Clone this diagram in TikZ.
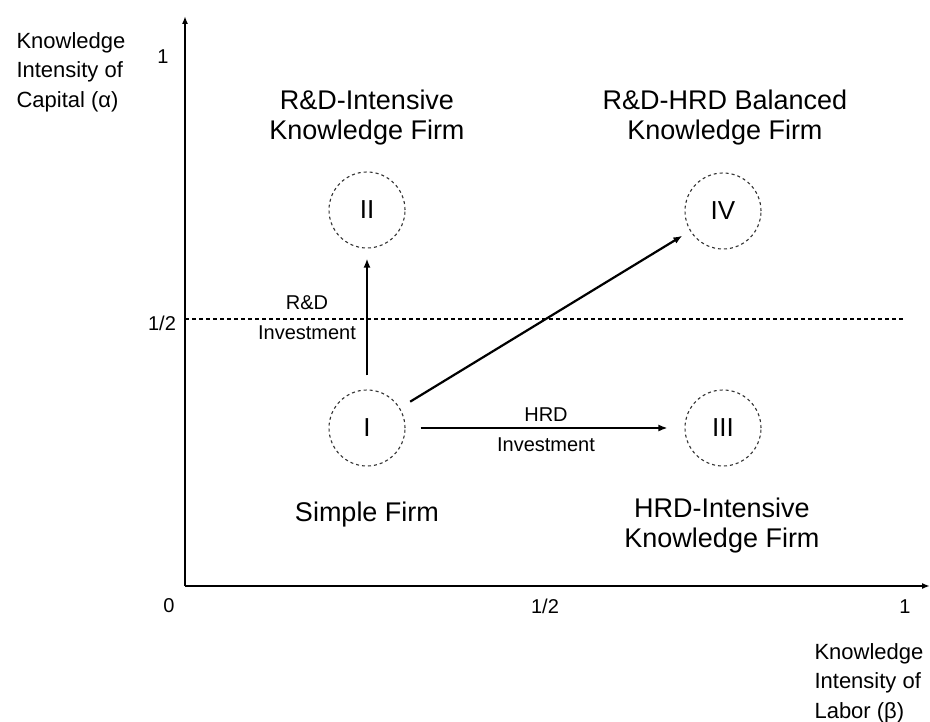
\documentclass[tikz,border=0pt]{standalone}
\usepackage{fontspec}
\setmainfont{Liberation Sans}
\usetikzlibrary{arrows.meta}
\begin{document}
\begin{tikzpicture}[x=1pt,y=-1pt,
  firm/.style={circle,draw=black!80,line width=1.1pt,dash pattern=on 3pt off 3pt,minimum size=76pt,inner sep=0pt,font=\fontsize{26}{28}\selectfont},
  title/.style={align=center,font=\fontsize{27}{30}\selectfont},
  small/.style={align=center,font=\fontsize{20}{30}\selectfont},
  tick/.style={font=\fontsize{20}{24}\selectfont},
  axlab/.style={align=left,font=\fontsize{22}{29.5}\selectfont},
  arr/.style={line width=2.2pt,-{Latex[length=9pt,width=7pt]}},
  axis/.style={line width=2pt,-{Latex[length=8pt,width=6pt]}}]
\useasboundingbox (0,0) rectangle (930,722);
% axes
\coordinate (O) at (185,586);
\coordinate (ytop) at (185,16);
\coordinate (xend) at (930,586);
\draw[axis] (O) -- (ytop);
\draw[axis] (O) -- (xend);
\coordinate (dl) at (185,319);
\coordinate (dr) at (903,319);
\draw[line width=1.2pt,dash pattern=on 4pt off 3pt] (dl) -- (dr);
% tick labels
\node[tick] (t1y) at (163,57) {1};
\node[tick] (thy) at (162,323) {1/2};
\node[tick] (t0) at (169,606) {0};
\node[tick] (thx) at (545,606) {1/2};
\node[tick] (t1x) at (905,607) {1};
% axis labels
\node[axlab,anchor=west] (ylab) at (13,72) {Knowledge\\Intensity of\\Capital (α)};
\node[axlab,anchor=west] (xlab) at (811,683) {Knowledge\\Intensity of\\Labor (β)};
% firms
\node[firm] (I) at (367,428) {I};
\node[firm] (II) at (367,210) {II};
\node[firm] (III) at (723,428) {III};
\node[firm] (IV) at (723,211) {IV};
% titles
\node[title] (tII) at (367,118) {R\&D-Intensive\\Knowledge Firm};
\node[title] (tIV) at (725,118) {R\&D-HRD Balanced\\Knowledge Firm};
\node[title] (tI) at (367,515) {Simple Firm};
\node[title] (tIII) at (722,526) {HRD-Intensive\\Knowledge Firm};
% arrows
\draw[arr,shorten <=14pt,shorten >=10pt] (I) -- (II);
\draw[arr,shorten <=12pt,shorten >=9pt] (I) -- (IV);
\draw[arr,line width=1.6pt,shorten <=15pt,shorten >=17pt] (I) -- (III);
\node[small] (rd) at (307,318) {R\&D\\Investment};
\node[small] (hrd) at (546,430) {HRD\\Investment};
\end{tikzpicture}
\end{document}
